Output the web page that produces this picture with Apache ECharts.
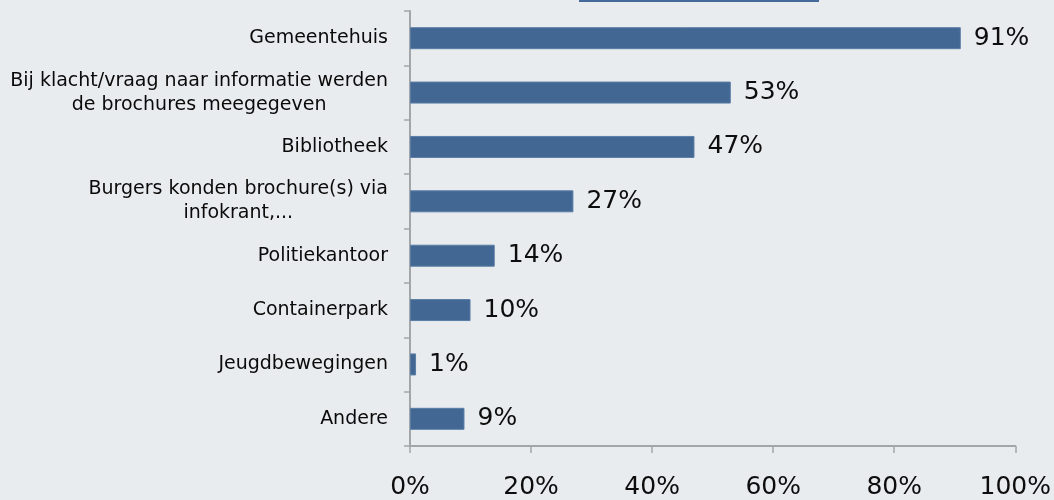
<!DOCTYPE html>
<html>
<head>
<meta charset="utf-8">
<script src="https://cdn.jsdelivr.net/npm/echarts@6/dist/echarts.min.js"></script>
<style>
  html, body { margin: 0; padding: 0; background: #e9ecee; }
  #chart { width: 1054px; height: 500px; }
</style>
</head>
<body>
<div id="chart"></div>
<script>
// Where the brochures were distributed (share of respondents, %)
const categories = [
  'Gemeentehuis',
  'Bij klacht/vraag naar informatie werden\nde brochures meegegeven',
  'Bibliotheek',
  'Burgers konden brochure(s) via\ninfokrant,...',
  'Politiekantoor',
  'Containerpark',
  'Jeugdbewegingen',
  'Andere'
];
const values = [91, 53, 47, 27, 14, 10, 1, 9];
const xTicks = [0, 20, 40, 60, 80, 100];

const FONT = '"DejaVu Sans", Verdana, sans-serif';
const AXIS_GRAY = '#a3a6a8';

const chart = echarts.init(document.getElementById('chart'), null, { renderer: 'canvas' });

chart.setOption({
  backgroundColor: '#e9ecee',
  animation: false,
  graphic: [
    {
      type: 'rect',
      shape: { x: 579, y: 0, width: 240, height: 2 },
      style: { fill: '#44699a' },
      silent: true
    }
  ],
  grid: { left: 410, right: 38, top: 11, bottom: 54 },
  xAxis: {
    type: 'value',
    min: xTicks[0],
    max: xTicks[xTicks.length - 1],
    interval: xTicks[1] - xTicks[0],
    axisLine: { show: true, lineStyle: { color: AXIS_GRAY, width: 2 } },
    axisTick: { show: true, length: 7, lineStyle: { color: AXIS_GRAY, width: 1.5 } },
    splitLine: { show: false },
    axisLabel: {
      formatter: '{value}%',
      fontSize: 25,
      fontFamily: FONT,
      color: '#0d0d0d',
      margin: 29
    }
  },
  yAxis: {
    type: 'category',
    data: categories,
    inverse: true,
    axisLine: { show: true, lineStyle: { color: AXIS_GRAY, width: 2 } },
    axisTick: { show: true, length: 6, lineStyle: { color: AXIS_GRAY, width: 1.5 } },
    axisLabel: {
      margin: 22,
      formatter: function (v) {
        return v.split('\n').map(function (l) { return '{c|' + l + '}'; }).join('\n');
      },
      rich: {
        c: {
          align: 'center',
          fontSize: 19,
          fontFamily: FONT,
          color: '#0a0a0a',
          lineHeight: 24
        }
      }
    }
  },
  series: [
    {
      type: 'bar',
      data: values,
      barWidth: 22,
      itemStyle: { color: '#426792', borderColor: '#5a7da6', borderWidth: 1 },
      label: {
        show: true,
        position: 'right',
        distance: 13,
        formatter: '{c}%',
        fontSize: 25,
        fontFamily: FONT,
        color: '#0d0d0d'
      }
    }
  ]
});
</script>
</body>
</html>
